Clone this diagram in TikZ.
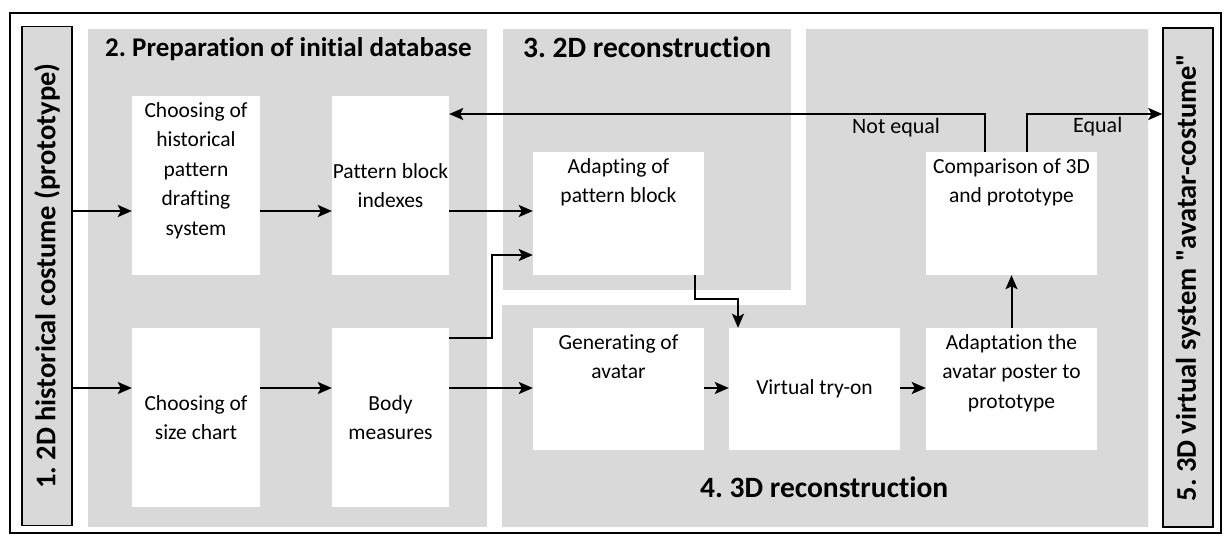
\documentclass[tikz,border=0pt]{standalone}
\usepackage{fontspec}
\usepackage{graphicx}
\newfontfamily\cfont{Carlito}[Ligatures=NoCommon]
\usetikzlibrary{arrows.meta}
\definecolor{panel}{HTML}{D9D9D9}
\frenchspacing

% text block of a process box: width, height, vertical position, lines
\newcommand{\flowtext}[4]{\parbox[c][#2pt][#3]{#1pt}{\centering #4}}
\newcommand{\firstline}{\rule{0pt}{21pt}}

\begin{document}
\begin{tikzpicture}[x=1pt,y=-1pt,
  font=\cfont,
  wbox/.style={fill=white, inner sep=0pt, font=\cfont\fontsize{21.5}{29.5}\selectfont},
  sidebox/.style={draw=black, line width=1.4pt, fill=panel, inner sep=0pt,
    minimum width=50pt, minimum height=499pt, font=\cfont\bfseries\fontsize{28.5}{30}\selectfont},
  title/.style={anchor=base west, inner sep=0pt, font=\cfont\bfseries\fontsize{29.5}{32}\selectfont},
  lbl/.style={anchor=base west, inner sep=0pt, font=\cfont\fontsize{22}{25}\selectfont},
  arr/.style={line width=2pt, -{Stealth[length=14pt,width=12pt,inset=3pt]}}
]
\useasboundingbox (0,0) rectangle (1225,536);

% outer frame
\draw[line width=1.2pt] (10,13) rectangle (1221,533);

% stage panels
\fill[panel] (88,29) rectangle (487,527);
\fill[panel] (503,29) rectangle (791,290);
\fill[panel] (806,29) -- (1148,29) -- (1148,527) -- (502,527) -- (502,305) -- (806,305) -- cycle;

% stage titles
\node[title, font=\cfont\bfseries\fontsize{27}{30}\selectfont] (t2) at (105,56) {2. Preparation of initial database};
\node[title] (t3) at (523,57) {3. 2D reconstruction};
\node[title] (t4) at (700,497) {4. 3D reconstruction};

% input and output stages
\node[sidebox] (b1) at (47,276) {\rotatebox{90}{1. 2D historical costume (prototype)}};
\node[sidebox, minimum height=499pt] (b5) at (1188,277.5) {\rotatebox{90}{5. 3D virtual system "avatar-costume"}};

% process boxes
\node[wbox] (A) at (196,185.5) {\flowtext{128}{179}{t}{\firstline Choosing of\\historical\\pattern\\drafting\\system}};
\node[wbox] (B) at (390.5,185.5) {\flowtext{117}{179}{c}{Pattern block\\indexes}};
\node[wbox] (C) at (196,417.5) {\flowtext{128}{179}{c}{Choosing of\\size chart}};
\node[wbox] (D) at (390.5,417.5) {\flowtext{117}{179}{c}{Body\\measures}};
\node[wbox] (E) at (618.5,213.5) {\flowtext{171}{123}{t}{\firstline Adapting of\\pattern block}};
\node[wbox] (F) at (618.5,389) {\flowtext{171}{122}{t}{\firstline Generating of\\avatar}};
\node[wbox] (G) at (814.5,389) {\flowtext{171}{122}{c}{Virtual try-on}};
\node[wbox] (H) at (1011.5,389) {\flowtext{171}{122}{t}{\firstline Adaptation the\\avatar poster to\\prototype}};
\node[wbox] (I) at (1011.5,213.5) {\flowtext{171}{123}{t}{\firstline Comparison of 3D\\and prototype}};

% routing levels
\coordinate (r1) at (0,211);
\coordinate (r2) at (0,388);
\coordinate (dj) at (492,338);
\coordinate (ej) at (492,255);
\coordinate (ex) at (695,299);
\coordinate (gx) at (738,299);
\coordinate (ne) at (985,114);
\coordinate (eq) at (1027,114);

% connectors
\draw[arr] (b1.east |- r1) -- (A.west |- r1);
\draw[arr] (A.east |- r1) -- (B.west |- r1);
\draw[arr] (B.east |- r1) -- (E.west |- r1);
\draw[arr] (b1.east |- r2) -- (C.west |- r2);
\draw[arr] (C.east |- r2) -- (D.west |- r2);
\draw[arr] (D.east |- r2) -- (F.west |- r2);
\draw[arr] (F.east |- r2) -- (G.west |- r2);
\draw[arr] (G.east |- r2) -- (H.west |- r2);
\draw[arr] (D.east |- dj) -- (dj) -- (ej) -- (E.west |- ej);
\draw[arr] (E.south -| ex) -- (ex) -- (gx) -- (G.north -| gx);
\draw[arr] (H.north) -- (I.south);
\draw[arr] (I.north -| ne) -- (ne) -- (B.east |- ne);
\draw[arr] (I.north -| eq) -- (eq) -- (b5.west |- eq);

% decision labels
\node[lbl] (lne) at (852,133) {Not equal};
\node[lbl] (leq) at (1073,132) {Equal};
\end{tikzpicture}
\end{document}
